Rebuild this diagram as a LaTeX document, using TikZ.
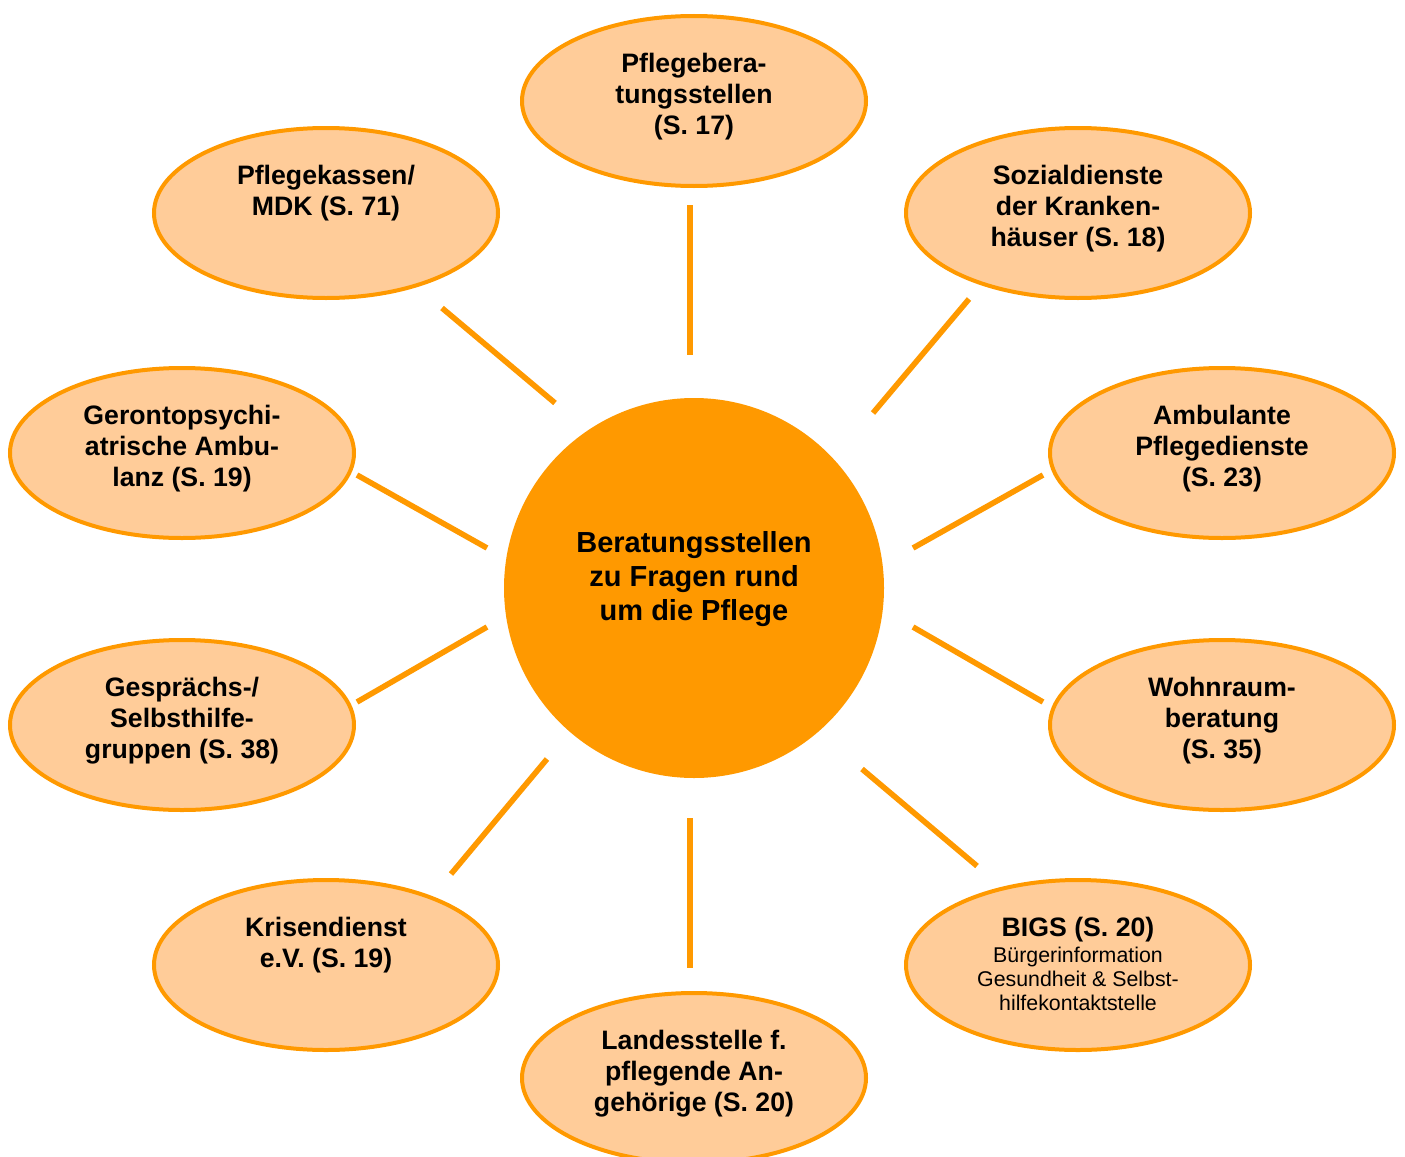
\documentclass[tikz,border=0pt]{standalone}
\usepackage{fontspec}
\setmainfont{Liberation Sans}
\usetikzlibrary{shapes.geometric}

\definecolor{hubOrange}{HTML}{FF9900}
\definecolor{bubblePeach}{HTML}{FFCC99}

\tikzset{every picture/.style={line width=0.75pt}}

\begin{document}
\begin{tikzpicture}[x=0.75pt,y=0.75pt,yscale=-1,xscale=1,
	bubble/.style={ellipse,draw=hubOrange,fill=bubblePeach,line width=3pt,minimum width=258pt,minimum height=127.5pt,inner sep=0pt},
	hub/.style={circle,fill=hubOrange,minimum size=285pt,inner sep=0pt},
	spoke/.style={draw=hubOrange,line width=4.2pt},
	bubbletext/.style={anchor=north,align=center,inner sep=0pt,font=\fontsize{20}{23.25}\selectfont\bfseries},
	smalltext/.style={anchor=north,align=center,inner sep=0pt,font=\fontsize{16}{18}\selectfont}]
	%set diagram left start at 0, and has height of 1156
	\useasboundingbox (0,0) rectangle (1405,1156);
	
	%Shape: Circle [hub]
	\node[hub] (hub) at (694,588) {};
	%Shape: Ellipses
	\node[bubble] (berat) at (694,101) {};
	\node[bubble] (kassen) at (326,213) {};
	\node[bubble] (sozial) at (1078,213) {};
	\node[bubble] (geronto) at (182,453) {};
	\node[bubble] (ambul) at (1222,453) {};
	\node[bubble] (gespr) at (182,725) {};
	\node[bubble] (wohn) at (1222,725) {};
	\node[bubble] (krisen) at (326,965) {};
	\node[bubble] (bigs) at (1078,965) {};
	\node[bubble] (landes) at (694,1078) {};
	
	%Straight Lines
	\coordinate (s1a) at (690,205); \coordinate (s1b) at (690,355);
	\coordinate (s2a) at (442,308); \coordinate (s2b) at (555,403);
	\coordinate (s3a) at (969,299); \coordinate (s3b) at (873,413);
	\coordinate (s4a) at (357,475); \coordinate (s4b) at (487,548);
	\coordinate (s5a) at (1043,475); \coordinate (s5b) at (913,548);
	\coordinate (s6a) at (357,702); \coordinate (s6b) at (487,627);
	\coordinate (s7a) at (1043,702); \coordinate (s7b) at (913,627);
	\coordinate (s8a) at (451,874); \coordinate (s8b) at (547,759);
	\coordinate (s9a) at (977,866); \coordinate (s9b) at (862,769);
	\coordinate (s10a) at (690,818); \coordinate (s10b) at (690,968);
	\draw[spoke] (s1a) -- (s1b);
	\draw[spoke] (s2a) -- (s2b);
	\draw[spoke] (s3a) -- (s3b);
	\draw[spoke] (s4a) -- (s4b);
	\draw[spoke] (s5a) -- (s5b);
	\draw[spoke] (s6a) -- (s6b);
	\draw[spoke] (s7a) -- (s7b);
	\draw[spoke] (s8a) -- (s8b);
	\draw[spoke] (s9a) -- (s9b);
	\draw[spoke] (s10a) -- (s10b);
	
	% Text Node
	\node[anchor=north,align=center,inner sep=0pt,font=\fontsize{21.75}{25.5}\selectfont\bfseries] (hubT) at (694,531) {Beratungsstellen\\zu Fragen rund\\um die Pflege};
	% Text Node
	\node[bubbletext] (beratT) at (694,53) {Pflegebera-\\tungsstellen\\(S. 17)};
	% Text Node
	\node[bubbletext] (kassenT) at (326,165) {Pflegekassen/\\MDK (S. 71)};
	% Text Node
	\node[bubbletext] (sozialT) at (1078,165) {Sozialdienste\\der Kranken-\\häuser (S. 18)};
	% Text Node
	\node[bubbletext] (gerontoT) at (182,405) {Gerontopsychi-\\atrische Ambu-\\lanz (S. 19)};
	% Text Node
	\node[bubbletext] (ambulT) at (1222,405) {Ambulante\\Pflegedienste\\(S. 23)};
	% Text Node
	\node[bubbletext] (gesprT) at (182,677) {Gesprächs-/\\Selbsthilfe-\\gruppen (S. 38)};
	% Text Node
	\node[bubbletext] (wohnT) at (1222,677) {Wohnraum-\\beratung\\(S. 35)};
	% Text Node
	\node[bubbletext] (krisenT) at (326,917) {Krisendienst\\e.V. (S. 19)};
	% Text Node
	\node[bubbletext] (bigsT) at (1078,917) {BIGS (S. 20)};
	% Text Node
	\node[smalltext] (bigsS) at (1078,947) {Bürgerinformation\\Gesundheit \& Selbst-\\hilfekontaktstelle};
	% Text Node
	\node[bubbletext] (landesT) at (694,1030) {Landesstelle f.\\pflegende An-\\gehörige (S. 20)};
	
\end{tikzpicture}
\end{document}
